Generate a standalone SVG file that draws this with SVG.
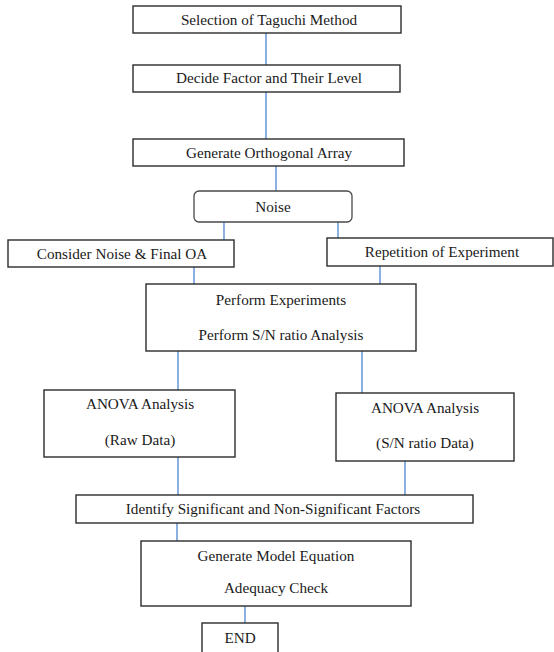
<svg xmlns="http://www.w3.org/2000/svg" width="554" height="652" viewBox="0 0 554 652">
<style>
.box{fill:#fff;stroke:#2b2b2b;stroke-width:1.4}
.rbox{fill:#fff;stroke:#4a4a4a;stroke-width:1.3}
.t{font-family:"Liberation Serif","Times New Roman","DejaVu Serif",serif;font-size:15.2px;fill:#1a1a1a;text-anchor:middle}
.c{stroke:#5b8fd2;stroke-width:1.4;fill:none}
</style>
<rect width="554" height="652" fill="#fff"/>
<g id="connectors">
<line class="c" x1="266" y1="33" x2="266" y2="65"/>
<line class="c" x1="266" y1="92" x2="266" y2="139"/>
<line class="c" x1="276" y1="166" x2="276" y2="191"/>
<line class="c" x1="224" y1="222" x2="224" y2="242"/>
<line class="c" x1="338" y1="222" x2="338" y2="242"/>
<line class="c" x1="194" y1="267" x2="194" y2="284"/>
<line class="c" x1="380" y1="266" x2="380" y2="284"/>
<line class="c" x1="178" y1="351" x2="178" y2="390"/>
<line class="c" x1="362" y1="351" x2="362" y2="393"/>
<line class="c" x1="178" y1="457" x2="178" y2="495"/>
<line class="c" x1="405" y1="461" x2="405" y2="495"/>
<line class="c" x1="177" y1="523" x2="177" y2="541"/>
<line class="c" x1="245" y1="606" x2="245" y2="623"/>
</g>
<g id="selection">
<rect class="box" x="133" y="6" width="268" height="27"/>
<text class="t" x="269" y="25">Selection of Taguchi Method</text>
</g>
<g id="decide">
<rect class="box" x="133" y="65" width="267" height="27"/>
<text class="t" x="269" y="83">Decide Factor and Their Level</text>
</g>
<g id="generate-oa">
<rect class="box" x="133" y="139" width="271" height="27"/>
<text class="t" x="269" y="158">Generate Orthogonal Array</text>
</g>
<g id="noise">
<rect class="rbox" x="194" y="191" width="158" height="31" rx="5" ry="5"/>
<text class="t" x="273" y="212">Noise</text>
</g>
<g id="consider">
<rect class="box" x="8" y="240" width="226" height="27"/>
<text class="t" x="122" y="259">Consider Noise &amp; Final OA</text>
</g>
<g id="repetition">
<rect class="box" x="327" y="238" width="226" height="28"/>
<text class="t" x="442" y="257">Repetition of Experiment</text>
</g>
<g id="perform">
<rect class="box" x="146" y="284" width="270" height="67"/>
<text class="t" x="281" y="305">Perform Experiments</text>
<text class="t" x="281" y="340">Perform S/N ratio Analysis</text>
</g>
<g id="anova-raw">
<rect class="box" x="44" y="390" width="191" height="67"/>
<text class="t" x="140" y="409">ANOVA Analysis</text>
<text class="t" x="140" y="445">(Raw Data)</text>
</g>
<g id="anova-sn">
<rect class="box" x="336" y="393" width="178" height="68"/>
<text class="t" x="425" y="413">ANOVA Analysis</text>
<text class="t" x="425" y="448">(S/N ratio Data)</text>
</g>
<g id="identify">
<rect class="box" x="76" y="495" width="397" height="28"/>
<text class="t" x="273" y="514">Identify Significant and Non-Significant Factors</text>
</g>
<g id="model">
<rect class="box" x="141" y="541" width="270" height="65"/>
<text class="t" x="276" y="561">Generate Model Equation</text>
<text class="t" x="276" y="593">Adequacy Check</text>
</g>
<g id="end">
<rect class="box" x="202" y="623" width="76" height="30"/>
<text class="t" x="240" y="643">END</text>
</g>
</svg>
